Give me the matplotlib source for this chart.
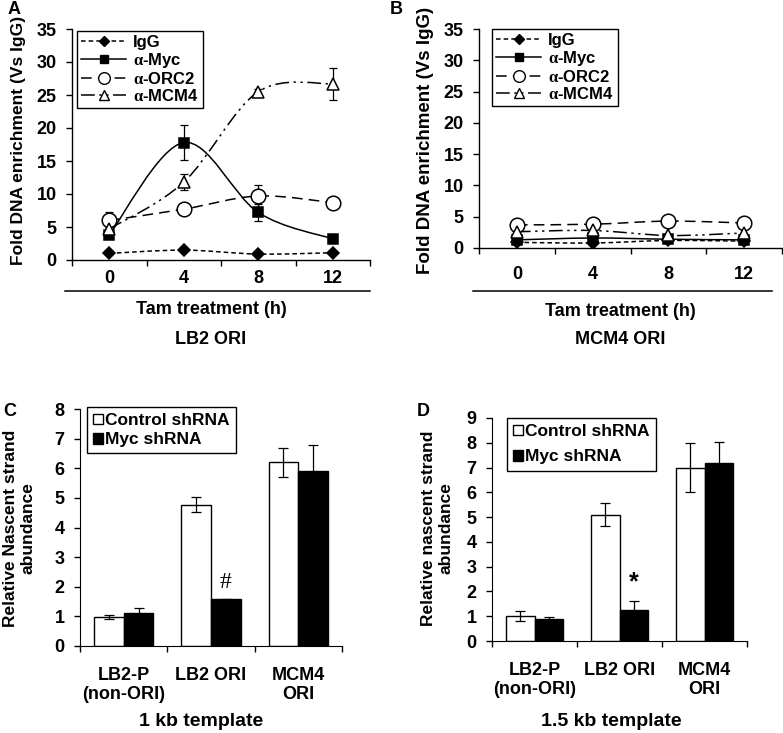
import numpy as np
import matplotlib
matplotlib.use("Agg")
import matplotlib.pyplot as plt
from matplotlib.path import Path
from matplotlib.patches import PathPatch, Patch
from matplotlib.lines import Line2D

plt.rcParams['font.family'] = ['Liberation Sans', 'DejaVu Sans']
plt.rcParams['font.weight'] = 'bold'
plt.rcParams['mathtext.fontset'] = 'custom'
plt.rcParams['mathtext.rm'] = 'Liberation Serif'

# ChIP time course (panels A, B)
hours = ['0', '4', '8', '12']
series = ['IgG', 'Myc', 'ORC2', 'MCM4']

lb2_igg = [1.0, 1.5, 0.9, 1.1]
lb2_myc = [3.8, 17.8, 7.2, 3.2]
lb2_orc2 = [6.0, 7.7, 9.7, 8.7]
lb2_mcm4 = [4.7, 11.8, 25.5, 26.7]
lb2_igg_err = [0.1, 0.1, 0.1, 0.1]
lb2_myc_err = [0.4, 2.6, 1.3, 0.5]
lb2_orc2_err = [1.3, 0.3, 1.6, 0.3]
lb2_mcm4_err = [0.3, 1.2, 0.4, 2.4]

mcm_igg = [0.9, 0.8, 1.2, 1.1]
mcm_myc = [1.3, 1.6, 1.4, 1.3]
mcm_orc2 = [3.7, 3.8, 4.3, 4.0]
mcm_mcm4 = [2.6, 2.8, 2.0, 2.4]

# nascent strand abundance (panels C, D)
regions = ['LB2-P\n(non-ORI)', 'LB2 ORI', 'MCM4\nORI']
c_ctrl = [0.98, 4.77, 6.2]
c_ctrl_err = [0.07, 0.26, 0.5]
c_myc = [1.1, 1.57, 5.9]
c_myc_err = [0.18, 0.03, 0.9]
d_ctrl = [1.0, 5.1, 7.0]
d_ctrl_err = [0.2, 0.45, 1.0]
d_myc = [0.9, 1.25, 7.2]
d_myc_err = [0.07, 0.35, 0.85]

W, H = 783, 733
fig = plt.figure(figsize=(W / 100, H / 100), dpi=100)


def fx(px):
    return px / W


def fy(py):
    return 1 - py / H


def smooth_path(x, y):
    # excel-like smoothed line through the points (cubic bezier segments)
    n = len(x)
    verts = [(x[0], y[0])]
    codes = [Path.MOVETO]
    for i in range(n - 1):
        a = max(i - 1, 0)
        b = min(i + 2, n - 1)
        c1 = (x[i] + (x[i + 1] - x[a]) / 6, y[i] + (y[i + 1] - y[a]) / 6)
        c2 = (x[i + 1] - (x[b] - x[i]) / 6, y[i + 1] - (y[b] - y[i]) / 6)
        verts += [c1, c2, (x[i + 1], y[i + 1])]
        codes += [Path.CURVE4] * 3
    return Path(verts, codes)


styles = {
    'IgG': dict(ls=(0, (3, 2)), marker='D', mfc='black', ms=6.5, label='IgG'),
    'Myc': dict(ls='-', marker='s', mfc='black', ms=7.5, label=r'$\mathrm{\alpha}$-Myc'),
    'ORC2': dict(ls=(0, (7, 4)), marker='o', mfc='white', ms=10.5, label=r'$\mathrm{\alpha}$-ORC2'),
    'MCM4': dict(ls=(0, (9, 3, 1.5, 3, 1.5, 3)), marker='^', mfc='white', ms=9, label=r'$\mathrm{\alpha}$-MCM4'),
}
TICK_FS = 13
LAB_FS = 13


def line_panel(rect, data, errs, ylab_x, title_y, sub, sub_x, line_x, tick_pad):
    ax = fig.add_axes(rect)
    x = np.arange(len(hours))
    for name in series:
        st = styles[name]
        y = data[name]
        ax.add_patch(PathPatch(smooth_path(x, y), fill=False, edgecolor='black',
                               lw=1.1, linestyle=st['ls'], zorder=2))
        if errs is not None:
            ax.errorbar(x, y, yerr=errs[name], fmt='none', ecolor='black',
                        elinewidth=0.9, capsize=3, capthick=0.9, zorder=3)
        ax.plot(x, y, linestyle='none', marker=st['marker'], mfc=st['mfc'],
                mec='black', mew=1.1, ms=st['ms'], zorder=4)
    ax.set_xlim(-0.5, 3.5)
    ax.set_ylim(0, 35)
    ax.set_yticks(range(0, 36, 5))
    ax.set_xticks([-0.5, 0.5, 1.5, 2.5, 3.5])
    ax.set_xticklabels([])
    ax.set_xticks(x, minor=True)
    ax.set_xticklabels(hours, minor=True)
    ax.tick_params(axis='x', which='minor', length=0, pad=tick_pad, labelsize=TICK_FS)
    ax.tick_params(axis='x', which='major', length=4, width=1)
    ax.tick_params(axis='y', length=4, width=1, pad=7, labelsize=TICK_FS)
    for s in ['top', 'right']:
        ax.spines[s].set_visible(False)
    for s in ['left', 'bottom']:
        ax.spines[s].set_linewidth(1)
    handles = [Line2D([], [], color='black', lw=1.1, linestyle=styles[n]['ls'],
                      marker=styles[n]['marker'], mfc=styles[n]['mfc'], mec='black',
                      ms=styles[n]['ms'] * 0.8, label=styles[n]['label']) for n in series]
    leg = ax.legend(handles=handles, loc='upper left',
                    bbox_to_anchor=(fx(sub['leg'][0]), fy(sub['leg'][1])),
                    bbox_transform=fig.transFigure, borderaxespad=0,
                    fontsize=12, handlelength=2.7, handletextpad=0.4,
                    labelspacing=0.05, borderpad=0.25, fancybox=False,
                    edgecolor='black', framealpha=1)
    leg.get_frame().set_linewidth(1)
    fig.text(fx(ylab_x), fy(140), 'Fold DNA enrichment (Vs IgG)', rotation=90,
             ha='center', va='center', fontsize=sub['ylab_fs'])
    fig.text(fx(sub_x), fy(title_y), 'Tam treatment (h)', ha='center', va='center', fontsize=LAB_FS)
    fig.text(fx(sub_x), fy(339), sub['name'], ha='center', va='center', fontsize=LAB_FS)
    fig.add_artist(Line2D([fx(line_x[0]), fx(line_x[1])], [fy(291), fy(291)],
                          color='black', lw=1.1))
    return ax


line_panel([fx(72), fy(260), fx(370) - fx(72), fy(29) - fy(260)],
           {'IgG': lb2_igg, 'Myc': lb2_myc, 'ORC2': lb2_orc2, 'MCM4': lb2_mcm4},
           {'IgG': lb2_igg_err, 'Myc': lb2_myc_err, 'ORC2': lb2_orc2_err, 'MCM4': lb2_mcm4_err},
           19, 310, {'leg': (77, 31), 'name': 'LB2 ORI', 'ylab_fs': 12.5}, 211, (65, 370), 7)
line_panel([fx(479), fy(248), fx(782) - fx(479), fy(29) - fy(248)],
           {'IgG': mcm_igg, 'Myc': mcm_myc, 'ORC2': mcm_orc2, 'MCM4': mcm_mcm4},
           None, 425, 312, {'leg': (492, 29), 'name': 'MCM4 ORI', 'ylab_fs': 13.5}, 620, (473, 772), 13)
fig.text(fx(14), fy(9), 'A', ha='center', va='center', fontsize=13)
fig.text(fx(396), fy(9), 'B', ha='center', va='center', fontsize=13)


def bar_panel(rect, ctrl, ctrl_err, myc, myc_err, ymax, ylab, ylab_x, leg_xy, xlab, xlab_x, mark, mark_y, mark_kw):
    ax = fig.add_axes(rect)
    x = np.arange(len(regions))
    w = 0.34
    ax.bar(x - w / 2, ctrl, w, color='white', edgecolor='black', lw=1, zorder=2)
    ax.bar(x + w / 2, myc, w, color='black', edgecolor='black', lw=1, zorder=2)
    ax.errorbar(x - w / 2, ctrl, yerr=ctrl_err, fmt='none', ecolor='black',
                elinewidth=0.9, capsize=3.5, capthick=0.9, zorder=3)
    ax.errorbar(x + w / 2, myc, yerr=myc_err, fmt='none', ecolor='black',
                elinewidth=0.9, capsize=3.5, capthick=0.9, zorder=3)
    ax.set_xlim(-0.5, 2.5)
    ax.set_ylim(0, ymax)
    ax.set_yticks(range(0, ymax + 1))
    ax.set_xticks([-0.5, 0.5, 1.5, 2.5])
    ax.set_xticklabels([])
    ax.set_xticks(x, minor=True)
    ax.set_xticklabels(regions, minor=True)
    ax.tick_params(axis='x', which='minor', length=0, pad=15, labelsize=TICK_FS)
    ax.tick_params(axis='x', which='major', length=4, width=1)
    ax.tick_params(axis='y', length=4, width=1, pad=7, labelsize=TICK_FS)
    for s in ['top', 'right']:
        ax.spines[s].set_visible(False)
    handles = [Patch(facecolor='white', edgecolor='black', lw=1, label='Control shRNA'),
               Patch(facecolor='black', edgecolor='black', lw=1, label='Myc shRNA')]
    leg = ax.legend(handles=handles, loc='upper left',
                    bbox_to_anchor=(fx(leg_xy[0]), fy(leg_xy[1])),
                    bbox_transform=fig.transFigure, borderaxespad=0,
                    fontsize=12.5, handlelength=0.55, handleheight=0.55, handletextpad=0.15,
                    labelspacing=leg_xy[2], borderpad=0.35, fancybox=False,
                    edgecolor='black', framealpha=1)
    leg.get_frame().set_linewidth(1)
    ax.text(1 + w / 2, mark_y, mark, ha='center', va='center', **mark_kw)
    fig.text(fx(ylab_x), fy(528), ylab, rotation=90, ha='center', va='center',
             fontsize=12.5, multialignment='center', linespacing=1.2)
    fig.text(fx(xlab_x), fy(722), xlab, ha='center', va='center', fontsize=14)
    return ax


bar_panel([fx(80), fy(646), fx(342) - fx(80), fy(409) - fy(646)],
          c_ctrl, c_ctrl_err, c_myc, c_myc_err, 8,
          'Relative Nascent strand\nabundance', 19, (87, 407, 0.25), '1 kb template', 201,
          '#', 2.15, dict(fontsize=17, fontweight='normal', family='Liberation Serif'))
bar_panel([fx(492), fy(641), fx(747) - fx(492), fy(418) - fy(641)],
          d_ctrl, d_ctrl_err, d_myc, d_myc_err, 9,
          'Relative nascent strand\nabundance', 437, (507, 418, 0.6), '1.5 kb template', 611,
          '*', 2.35, dict(fontsize=18, fontweight='bold'))
fig.text(fx(10), fy(412), 'C', ha='center', va='center', fontsize=13)
fig.text(fx(423), fy(412), 'D', ha='center', va='center', fontsize=13)

fig.savefig('out.png', dpi=100)
